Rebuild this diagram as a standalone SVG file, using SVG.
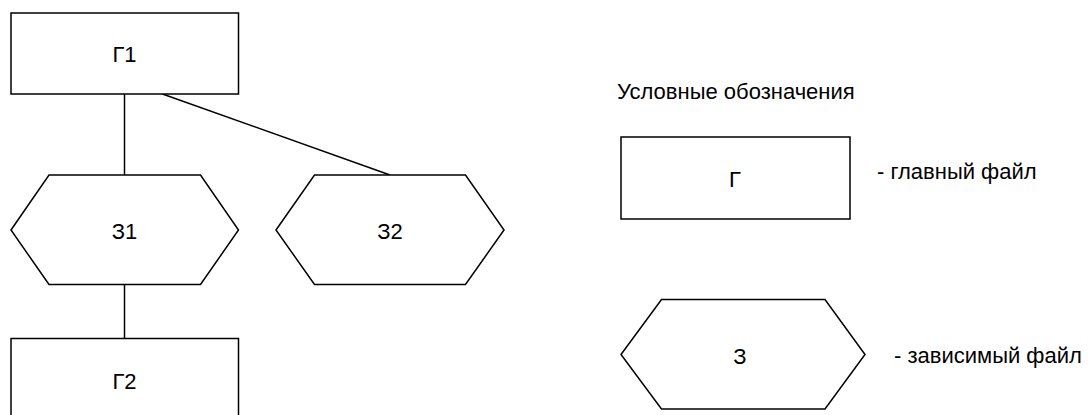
<svg xmlns="http://www.w3.org/2000/svg" width="1088" height="415" viewBox="0 0 1088 415">
<style>
.s{fill:#fff;stroke:#000;stroke-width:1.5}
.c{stroke:#000;stroke-width:1.5;fill:none}
text{font-family:"Liberation Sans",Arial,sans-serif;font-size:22px;fill:#000}
.m{text-anchor:middle}
</style>
<rect width="1088" height="415" fill="#fff"/>
<g id="connectors">
<line class="c" x1="124.5" y1="94" x2="124.5" y2="175"/>
<line class="c" x1="162.5" y1="94" x2="390" y2="175"/>
<line class="c" x1="124.5" y1="284" x2="124.5" y2="338"/>
</g>
<g id="G1">
<rect class="s" x="11" y="13" width="227.5" height="81"/>
<text class="m" x="124.5" y="62">Г1</text>
</g>
<g id="Z1">
<polygon class="s" points="11,230 49,175 200.5,175 238.5,230 200.5,284.5 49,284.5"/>
<text class="m" x="124.5" y="239">З1</text>
</g>
<g id="Z2">
<polygon class="s" points="276,230 314.5,175 465.5,175 504,230 465.5,284.5 314.5,284.5"/>
<text class="m" x="390" y="239">З2</text>
</g>
<g id="G2">
<rect class="s" x="11" y="338.5" width="227.5" height="81.5"/>
<text class="m" x="124.5" y="389">Г2</text>
</g>
<g id="legend">
<text x="617" y="99">Условные обозначения</text>
<g id="legendG">
<rect class="s" x="621" y="137" width="229" height="82"/>
<text class="m" x="735" y="187">Г</text>
</g>
<text x="877" y="179">- главный файл</text>
<g id="legendZ">
<polygon class="s" points="621,354.5 661.5,299.5 825,299.5 865,354.5 825,409 661.5,409"/>
<text class="m" x="740" y="364">З</text>
</g>
<text x="894" y="363">- зависимый файл</text>
</g>
</svg>
